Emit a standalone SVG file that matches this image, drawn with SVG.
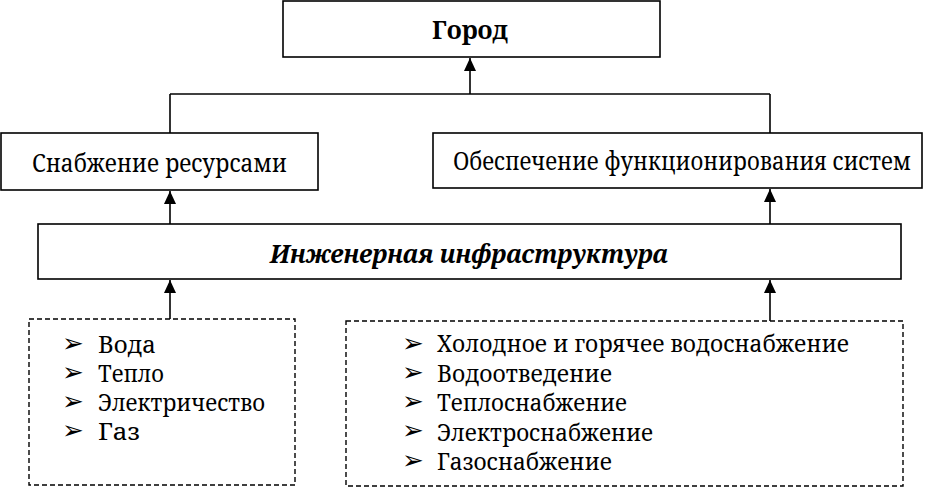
<svg xmlns="http://www.w3.org/2000/svg" width="940" height="489" viewBox="0 0 940 489">
<style>
.box{fill:#fff;stroke:#000;stroke-width:1.6}
.dash{fill:#fff;stroke:#000;stroke-width:1.4;stroke-dasharray:5,3}
.ln{stroke:#000;stroke-width:1.6;fill:none}
.bl{font-family:'DejaVu Sans',sans-serif;font-size:26px;fill:#000}
.lbl{font-family:'Noto Serif','DejaVu Serif',serif;font-size:25px;fill:#000}
.li{font-family:'Noto Serif','DejaVu Serif',serif;font-size:23px;fill:#000}
</style>
<defs>
<marker id="ah" markerWidth="13" markerHeight="12" refX="13" refY="6" orient="auto" markerUnits="userSpaceOnUse" viewBox="0 0 13 12">
<path d="M0,0 L13,6 L0,12 Z" fill="#000"/>
</marker>
</defs>
<g id="connectors">
<line class="ln" x1="170" y1="94" x2="770" y2="94"/>
<line class="ln" x1="170" y1="94" x2="170" y2="133"/>
<line class="ln" x1="770" y1="94" x2="770" y2="133"/>
<line class="ln" x1="470" y1="94" x2="470" y2="58" marker-end="url(#ah)"/>
<line class="ln" x1="170" y1="224" x2="170" y2="191" marker-end="url(#ah)"/>
<line class="ln" x1="770" y1="224" x2="770" y2="189" marker-end="url(#ah)"/>
<line class="ln" x1="170" y1="319" x2="170" y2="280" marker-end="url(#ah)"/>
<line class="ln" x1="770" y1="321" x2="770" y2="280" marker-end="url(#ah)"/>
</g>
<g id="gorod">
<rect class="box" x="283" y="1" width="377" height="56"/>
<text class="lbl" x="432" y="39" font-weight="bold" font-size="24" textLength="76" lengthAdjust="spacingAndGlyphs">Город</text>
</g>
<g id="snabzhenie">
<rect class="box" x="1" y="133" width="317" height="57"/>
<text class="lbl" x="32" y="172" textLength="255" lengthAdjust="spacingAndGlyphs">Снабжение ресурсами</text>
</g>
<g id="obespechenie">
<rect class="box" x="433" y="133" width="489" height="55"/>
<text class="lbl" x="453" y="170" textLength="458" lengthAdjust="spacingAndGlyphs">Обеспечение функционирования систем</text>
</g>
<g id="infra">
<rect class="box" x="38" y="224" width="863" height="55"/>
<text class="lbl" x="270" y="263" font-weight="bold" font-style="italic" textLength="398" lengthAdjust="spacingAndGlyphs">Инженерная инфраструктура</text>
</g>
<g id="resources">
<rect class="dash" x="29" y="319" width="266" height="166"/>
<text class="bl" x="62" y="352">➢</text>
<text class="bl" x="62" y="381">➢</text>
<text class="bl" x="62" y="410">➢</text>
<text class="bl" x="62" y="439">➢</text>
<text class="li" x="98" y="352.5" textLength="58" lengthAdjust="spacingAndGlyphs">Вода</text>
<text class="li" x="98" y="381.5" textLength="66" lengthAdjust="spacingAndGlyphs">Тепло</text>
<text class="li" x="98" y="411" textLength="167" lengthAdjust="spacingAndGlyphs">Электричество</text>
<text class="li" x="98" y="440" textLength="42" lengthAdjust="spacingAndGlyphs">Газ</text>
</g>
<g id="systems">
<rect class="dash" x="346" y="321" width="557" height="165"/>
<text class="bl" x="402" y="352">➢</text>
<text class="bl" x="402" y="381">➢</text>
<text class="bl" x="402" y="410">➢</text>
<text class="bl" x="402" y="439">➢</text>
<text class="bl" x="402" y="469">➢</text>
<text class="li" x="437" y="352" textLength="412" lengthAdjust="spacingAndGlyphs">Холодное и горячее водоснабжение</text>
<text class="li" x="437" y="381.5" textLength="175" lengthAdjust="spacingAndGlyphs">Водоотведение</text>
<text class="li" x="437" y="411" textLength="190" lengthAdjust="spacingAndGlyphs">Теплоснабжение</text>
<text class="li" x="437" y="440.5" textLength="216" lengthAdjust="spacingAndGlyphs">Электроснабжение</text>
<text class="li" x="437" y="470" textLength="175" lengthAdjust="spacingAndGlyphs">Газоснабжение</text>
</g>
</svg>
